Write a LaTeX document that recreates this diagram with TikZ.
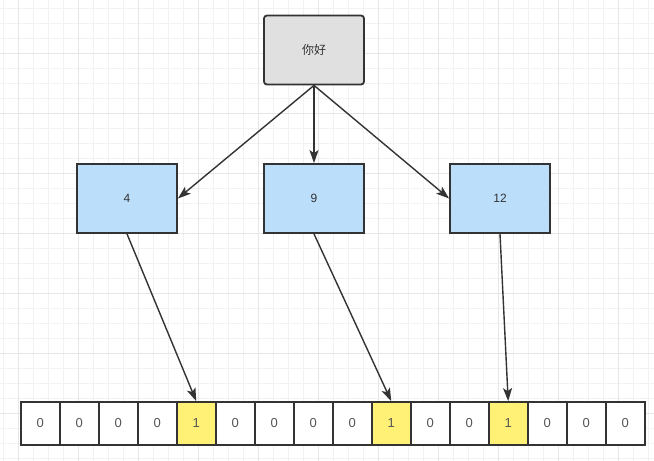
\documentclass[tikz,border=0pt]{standalone}
\usepackage{fontspec}
\setmainfont{Liberation Sans}
\newfontfamily\cjkfont{Noto Sans CJK SC}
\usetikzlibrary{arrows.meta}
\definecolor{gridminor}{HTML}{F2F2F2}
\definecolor{gridmajor}{HTML}{E6E6E6}
\definecolor{edge}{HTML}{333333}
\definecolor{grayfill}{HTML}{E0E0E0}
\definecolor{bluefill}{HTML}{BBDEFB}
\definecolor{yellowfill}{HTML}{FFF176}
\definecolor{txt}{HTML}{555555}
\tikzset{
  boxbase/.style={draw=edge, line width=1.8pt, minimum width=100pt, minimum height=69pt, inner sep=0pt, font=\fontsize{12}{14}\selectfont, text=edge},
  rootbox/.style={boxbase, fill=grayfill, rounded corners=3pt},
  keybox/.style={boxbase, fill=bluefill},
  cellbox/.style={draw=edge, line width=1.8pt, minimum width=39pt, minimum height=43pt, inner sep=0pt, fill=white, font=\fontsize{13}{15}\selectfont, text=txt},
  hitcell/.style={cellbox, fill=yellowfill},
  link/.style={draw=edge, line width=1.4pt, -{Stealth[length=13pt,width=9pt,inset=3pt]}}
}
\begin{document}
\begin{tikzpicture}[x=1pt,y=-1pt]
\useasboundingbox (0,0) rectangle (654,461);
\fill[white] (0,0) rectangle (654,461);
% grid
\foreach \i in {0,...,43} {
  \pgfmathsetmacro{\gx}{3.3+15*\i}
  \draw[gridminor, line width=0.8pt] (\gx,0) -- (\gx,461);
}
\foreach \i in {0,...,30} {
  \pgfmathsetmacro{\gy}{8.3+15*\i}
  \draw[gridminor, line width=0.8pt] (0,\gy) -- (654,\gy);
}
\foreach \i in {0,...,10} {
  \pgfmathsetmacro{\gx}{18.3+60*\i}
  \draw[gridmajor, line width=0.9pt] (\gx,0) -- (\gx,461);
}
\foreach \i in {0,...,7} {
  \pgfmathsetmacro{\gy}{-6.7+60*\i}
  \draw[gridmajor, line width=0.9pt] (0,\gy) -- (654,\gy);
}
% nodes
\node[rootbox] (root) at (314,50) {\cjkfont 你好};
\node[keybox] (k4) at (127,198.5) {4};
\node[keybox] (k9) at (314,198.5) {9};
\node[keybox] (k12) at (500,198.5) {12};
\foreach \v [count=\k from 0] in {0,0,0,0,1,0,0,0,0,1,0,0,1,0,0,0} {
  \pgfmathsetmacro{\cx}{40.2+39*\k}
  \ifnum\v=1
    \node[hitcell] (c\k) at (\cx,423.5) {\v};
  \else
    \node[cellbox] (c\k) at (\cx,423.5) {\v};
  \fi
}
% connectors
\draw[link] (root.south) -- (k4.east);
\draw[link] (root.south) -- (k9.north);
\draw[link] (root.south) -- (k12.west);
\draw[link] (k4.south) -- (c4.north);
\draw[link] (k9.south) -- (c9.north);
\draw[link] (k12.south) -- (c12.north);
\end{tikzpicture}
\end{document}
